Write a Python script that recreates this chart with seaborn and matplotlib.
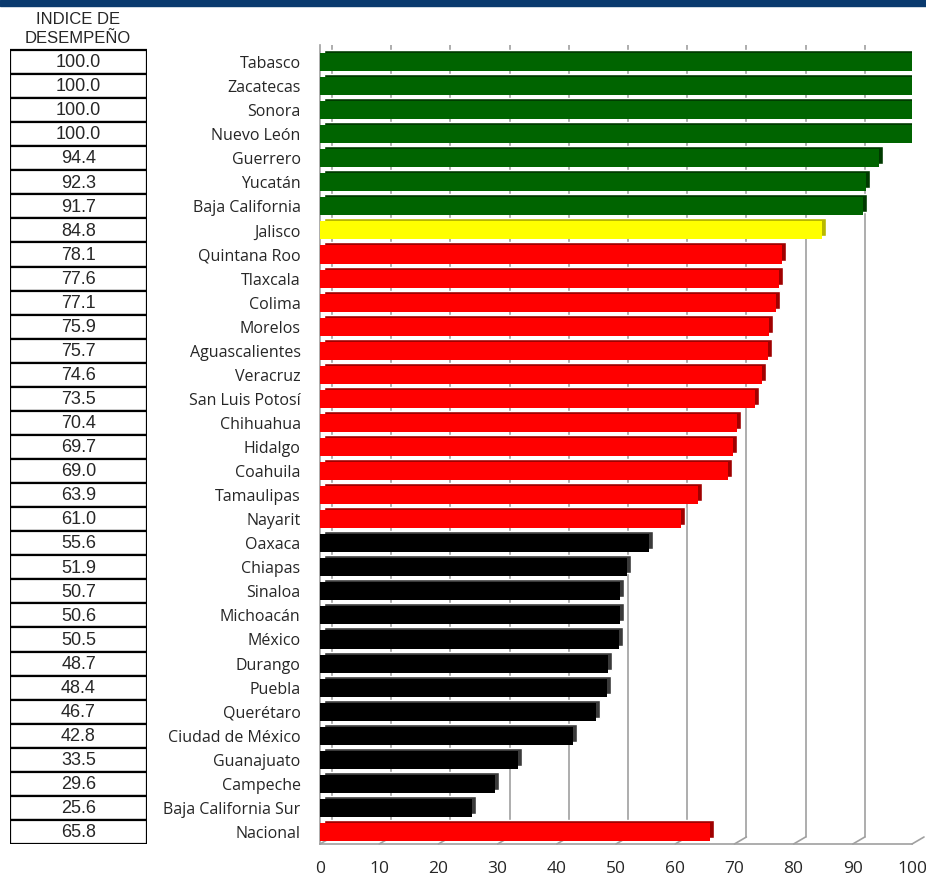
import numpy as np
import pandas as pd
import matplotlib
matplotlib.use("Agg")
import matplotlib.pyplot as plt
import matplotlib.transforms as mtransforms
import seaborn as sns

# Datos
estados = ['Tabasco', 'Zacatecas', 'Sonora', 'Nuevo León', 'Guerrero', 'Yucatán',
           'Baja California', 'Jalisco', 'Quintana Roo', 'Tlaxcala', 'Colima', 'Morelos',
           'Aguascalientes', 'Veracruz', 'San Luis Potosí', 'Chihuahua', 'Hidalgo',
           'Coahuila', 'Tamaulipas', 'Nayarit', 'Oaxaca', 'Chiapas', 'Sinaloa',
           'Michoacán', 'México', 'Durango', 'Puebla', 'Querétaro', 'Ciudad de México',
           'Guanajuato', 'Campeche', 'Baja California Sur', 'Nacional']
indice = [100.0, 100.0, 100.0, 100.0, 94.4, 92.3, 91.7, 84.8, 78.1, 77.6, 77.1, 75.9,
          75.7, 74.6, 73.5, 70.4, 69.7, 69.0, 63.9, 61.0, 55.6, 51.9, 50.7, 50.6, 50.5,
          48.7, 48.4, 46.7, 42.8, 33.5, 29.6, 25.6, 65.8]
grupo = ['verde'] * 7 + ['amarillo'] + ['rojo'] * 12 + ['negro'] * 12 + ['rojo']
xticks = list(range(0, 101, 10))

colores = {'verde': '#006400', 'amarillo': '#ffff00', 'rojo': '#ff0000', 'negro': '#000000'}
sombras = {'verde': '#003a00', 'amarillo': '#b8b800', 'rojo': '#a00000', 'negro': '#3a3a3a'}

df = pd.DataFrame({'estado': estados, 'indice': indice, 'grupo': grupo})

sns.set_style('white')
plt.rcParams['font.family'] = ['Open Sans', 'DejaVu Sans']
arial = ['Liberation Sans', 'DejaVu Sans']
gris = '#a0a0a0'

W, H = 926, 877
fig = plt.figure(figsize=(W / 100, H / 100), dpi=100)

# banda azul superior
fig.patches.append(plt.Rectangle((0, 1 - 6 / H), 1, 6 / H, transform=fig.transFigure,
                                 color='#0a3a6e', zorder=0))

ax = fig.add_axes([320 / W, 33 / H, 592 / W, 799 / H])
tab = fig.add_axes([10 / W, 33 / H, 137 / W, 799 / H], sharey=ax)

n = len(estados)

# gridlines de la pared del fondo (desplazadas) con diagonal hacia el piso
back = ax.get_xaxis_transform() + mtransforms.ScaledTranslation(0.12, 0.0, fig.dpi_scale_trans)
for t in xticks:
    ax.plot([t, t], [7 / 799, 1], transform=back, color=gris, lw=1.2, zorder=0)
    ax.annotate('', xy=(t, 0), xycoords=ax.get_xaxis_transform(),
                xytext=(12, 7), textcoords='offset pixels',
                arrowprops=dict(arrowstyle='-', color=gris, lw=1.2,
                                shrinkA=0, shrinkB=0), zorder=0)

# profundidad de las barras
depth = mtransforms.ScaledTranslation(0.04, 0.03, fig.dpi_scale_trans)
ax.barh(np.arange(n), indice, height=0.75,
        color=[sombras[g] for g in grupo], transform=ax.transData + depth, zorder=2)

sns.barplot(data=df, y='estado', x='indice', hue='grupo', palette=colores,
            dodge=False, legend=False, width=0.75, saturation=1, linewidth=0,
            ax=ax, zorder=3)

ax.set_xlim(0, 100)
ax.set_ylim(n - 0.5, -0.5 - 5 / 24.06)
ax.set_xticks(xticks)
ax.set_xticklabels([str(t) for t in xticks])
ax.set_xlabel('')
ax.set_ylabel('')
ax.set_yticks(np.arange(n))
ax.set_yticklabels(estados, fontsize=11.5)
ax.set_yticks(np.arange(n + 1) - 0.5, minor=True)
ax.tick_params(axis='y', which='major', length=0, pad=14)
ax.tick_params(axis='y', which='minor', length=5, color=gris, width=1.2)
ax.tick_params(axis='x', length=5, color=gris, width=1.2, pad=7, labelsize=12.5)
for s in ['top', 'right']:
    ax.spines[s].set_visible(False)
for s in ['left', 'bottom']:
    ax.spines[s].set_color(gris)
    ax.spines[s].set_linewidth(1.2)
ax.patch.set_alpha(0)

# tabla de valores
tab.barh(np.arange(n), [1] * n, height=1.0, color='white', edgecolor='black', lw=1.6)
for i, v in enumerate(indice):
    tab.text(0.5, i + 0.03, f'{v:.1f}', ha='center', va='center', fontsize=13,
             family=arial)
tab.set_xlim(0, 1)
tab.axis('off')

fig.text(78 / W, 1 - 29 / H, 'INDICE DE\nDESEMPEÑO', ha='center', va='center',
         fontsize=12, linespacing=1.3, family=arial)

fig.savefig('out.png', dpi=100)
